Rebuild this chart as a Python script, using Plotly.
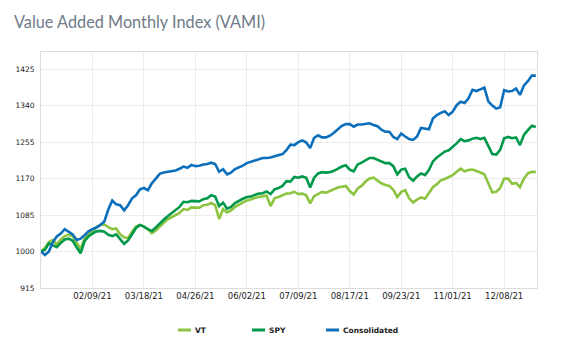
import plotly.graph_objects as go

# Value Added Monthly Index, sampled every second trading day starting 12/31/20 (base 1000)
vami_vt = [
    1000, 1008, 1022, 1027, 1016, 1028, 1036, 1039, 1036, 1020, 1006, 1030, 1039,
    1049, 1057, 1062, 1063, 1057, 1052, 1054, 1040, 1033, 1031, 1046, 1058, 1062,
    1058, 1052, 1043, 1049, 1059, 1067, 1075, 1080, 1085, 1090, 1099, 1097, 1103,
    1103, 1102, 1108, 1109, 1113, 1108, 1076, 1099, 1091, 1096, 1104, 1109, 1114,
    1119, 1121, 1125, 1127, 1128, 1130, 1106, 1124, 1127, 1131, 1135, 1136, 1139,
    1134, 1135, 1131, 1112, 1129, 1135, 1139, 1137, 1141, 1146, 1149, 1151, 1153,
    1141, 1133, 1147, 1153, 1163, 1170, 1172, 1165, 1159, 1155, 1153, 1144, 1127,
    1139, 1143, 1124, 1114, 1121, 1126, 1123, 1138, 1150, 1157, 1166, 1169, 1174,
    1178, 1186, 1193, 1187, 1190, 1191, 1188, 1184, 1180, 1157, 1138, 1139, 1148,
    1170, 1170, 1158, 1160, 1150, 1170, 1182, 1186, 1185,
]
vami_spy = [
    1000, 1004, 1019, 1015, 1010, 1020, 1028, 1030, 1025, 1010, 996, 1024, 1035,
    1042, 1047, 1048, 1046, 1039, 1036, 1040, 1030, 1018, 1026, 1042, 1055, 1062,
    1058, 1052, 1048, 1056, 1066, 1074, 1082, 1089, 1096, 1104, 1116, 1115, 1118,
    1118, 1117, 1122, 1124, 1131, 1128, 1106, 1114, 1100, 1104, 1113, 1119, 1123,
    1127, 1128, 1132, 1135, 1136, 1140, 1134, 1145, 1148, 1153, 1164, 1163, 1174,
    1172, 1175, 1172, 1149, 1172, 1182, 1185, 1184, 1185, 1188, 1193, 1198, 1201,
    1191, 1187, 1203, 1207, 1213, 1218, 1218, 1214, 1209, 1206, 1206, 1199, 1180,
    1191, 1193, 1173, 1165, 1175, 1182, 1178, 1190, 1210, 1219, 1226, 1233, 1236,
    1243, 1252, 1262, 1257, 1259, 1263, 1265, 1262, 1265, 1244, 1227, 1226, 1237,
    1264, 1267, 1264, 1266, 1248, 1272, 1283, 1293, 1290,
]
vami_consolidated = [
    1000, 992, 1000, 1022, 1035, 1042, 1052, 1045, 1040, 1027, 1030, 1038, 1047,
    1052, 1056, 1062, 1070, 1098, 1119, 1110, 1108, 1096, 1108, 1124, 1131, 1145,
    1148, 1143, 1159, 1170, 1181, 1184, 1186, 1187, 1189, 1193, 1198, 1195, 1202,
    1199, 1200, 1203, 1204, 1207, 1204, 1186, 1192, 1180, 1184, 1192, 1196, 1200,
    1206, 1209, 1213, 1216, 1218, 1218, 1219, 1222, 1225, 1227, 1236, 1249, 1248,
    1255, 1259, 1254, 1241, 1265, 1271, 1266, 1266, 1270, 1277, 1286, 1293, 1297,
    1297, 1291, 1296, 1296, 1297, 1299, 1295, 1292, 1284, 1279, 1279, 1267, 1262,
    1275, 1268, 1262, 1260, 1268, 1288, 1287, 1285, 1310, 1318, 1323, 1327, 1318,
    1326, 1341, 1349, 1346, 1357, 1377, 1374, 1378, 1382, 1350, 1340, 1333, 1336,
    1376, 1373, 1374, 1380, 1365, 1387, 1397, 1410, 1410,
]

series_names = ["VT", "SPY", "Consolidated"]
series_colors = ["#8cc43f", "#00984a", "#0b6fbb"]

tick_labels = ["02/09/21", "03/18/21", "04/26/21", "06/02/21", "07/09/21",
               "08/17/21", "09/23/21", "11/01/21", "12/08/21"]
y_ticks = [915, 1000, 1085, 1170, 1255, 1340, 1425]

SAMPLE_STEP = 2        # trading days between stored observations
TICK_EVERY = 26        # trading days between date labels

day_index = [i * SAMPLE_STEP for i in range(len(vami_consolidated))]
tick_positions = [TICK_EVERY * (j + 1) for j in range(len(tick_labels))]

W, H = 561, 345
MARGIN = dict(l=41, r=24, t=52, b=57)
plot_w = W - MARGIN["l"] - MARGIN["r"]
plot_h = H - MARGIN["t"] - MARGIN["b"]


def px_to_paper(px_x, px_y):
    """Convert page pixel coordinates to paper coordinates."""
    return (px_x - MARGIN["l"]) / plot_w, (H - MARGIN["b"] - px_y) / plot_h


fig = go.Figure()
for name, values, color in zip(series_names, [vami_vt, vami_spy, vami_consolidated], series_colors):
    fig.add_trace(go.Scatter(
        x=day_index, y=values, name=name, mode="lines",
        line=dict(color=color, width=2.6), showlegend=False,
    ))

# Compact legend row below the chart: short colour swatch followed by the name
legend_left, legend_step, legend_y = 178, 74, 330
swatch_len, text_gap = 13, 2
for j, (name, color) in enumerate(zip(series_names, series_colors)):
    x0 = legend_left + j * legend_step
    px0, py = px_to_paper(x0, legend_y)
    px1, _ = px_to_paper(x0 + swatch_len, legend_y)
    fig.add_shape(type="line", xref="paper", yref="paper",
                  x0=px0, x1=px1, y0=py, y1=py,
                  line=dict(color=color, width=3))
    tx, _ = px_to_paper(x0 + swatch_len + text_gap, legend_y)
    fig.add_annotation(text=name, xref="paper", yref="paper", x=tx, y=py,
                       xanchor="left", yanchor="middle", showarrow=False,
                       font=dict(family="DejaVu Sans", size=7.5, color="#222222", weight="bold"))

fig.update_layout(
    width=W, height=H,
    margin=MARGIN,
    paper_bgcolor="white", plot_bgcolor="white",
    title=dict(
        text="Value Added Monthly Index (VAMI)",
        x=14 / W, xanchor="left", xref="container",
        y=1 - 22 / H, yanchor="middle", yref="container",
        font=dict(family="Lato", size=16.3, color="#6f7b88"),
    ),
    showlegend=False,
    xaxis=dict(
        range=[0, 250.6],
        tickmode="array", tickvals=tick_positions, ticktext=tick_labels,
        showgrid=True, gridcolor="#ececec", gridwidth=1,
        showline=True, linecolor="#dcdcdc", linewidth=1, mirror=True,
        ticks="", zeroline=False,
        tickfont=dict(family="DejaVu Sans", size=8.5, color="#222222"),
    ),
    yaxis=dict(
        range=[915, 1465],
        tickmode="array", tickvals=y_ticks,
        showgrid=True, gridcolor="#ececec", gridwidth=1,
        showline=True, linecolor="#dcdcdc", linewidth=1, mirror=True,
        ticks="", zeroline=False, ticklabelstandoff=4,
        tickfont=dict(family="DejaVu Sans", size=7.5, color="#222222"),
    ),
)

fig.write_html("out.html")
